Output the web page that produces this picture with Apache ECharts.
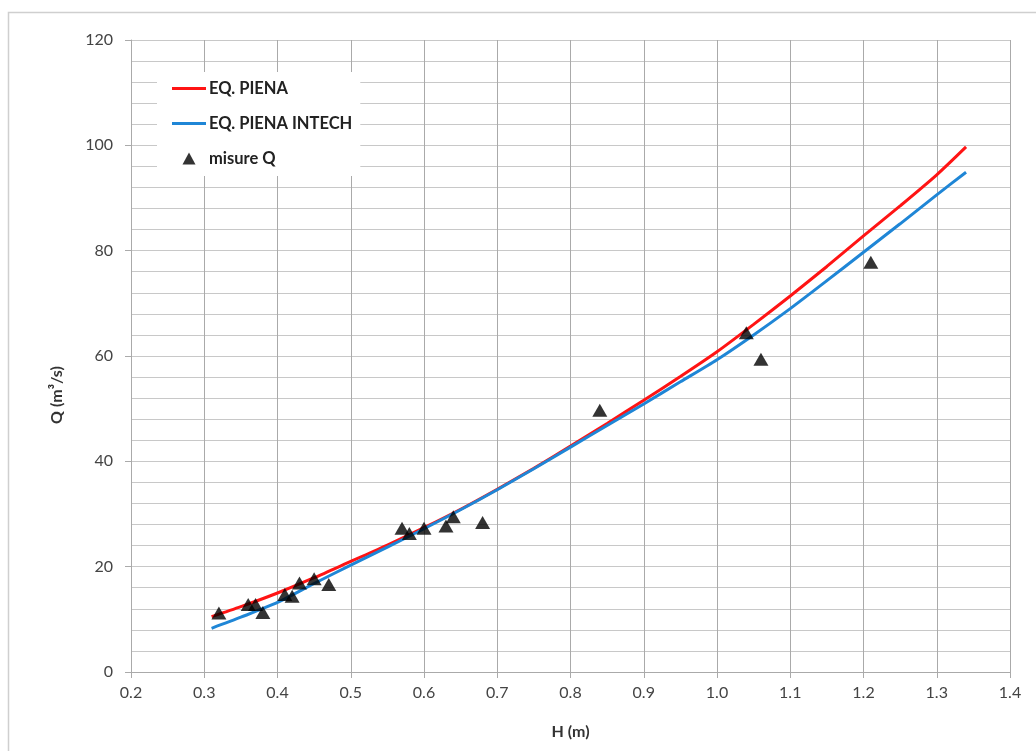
<!DOCTYPE html>
<html>
<head>
<meta charset="utf-8">
<script src="https://cdn.jsdelivr.net/npm/echarts@6/dist/echarts.min.js"></script>
<style>
  html, body { margin: 0; padding: 0; background: #fff; }
  #chart { width: 1036px; height: 751px; }
</style>
</head>
<body>
<div id="chart"></div>
<script>
// Stage H (m) sampled along the rating curves
const curveH = [0.31, 0.35, 0.40, 0.45, 0.50, 0.55, 0.60, 0.65, 0.70, 0.75, 0.80,
                0.85, 0.90, 0.95, 1.00, 1.05, 1.10, 1.15, 1.20, 1.25, 1.30, 1.34];
// EQ. PIENA discharge (m³/s)
const qPiena = [10.5, 12.4, 15.0, 17.9, 21.0, 24.1, 27.4, 30.9, 34.7, 38.7, 42.9,
                47.2, 51.6, 56.1, 60.8, 66.0, 71.4, 77.0, 82.8, 88.5, 94.4, 99.7];
// EQ. PIENA INTECH discharge (m³/s)
const qIntech = [8.3, 10.4, 13.2, 16.8, 20.3, 23.7, 27.2, 30.8, 34.6, 38.6, 42.7,
                 46.8, 50.9, 55.1, 59.3, 64.0, 69.0, 74.3, 79.7, 85.1, 90.6, 94.9];
// Measured discharges: stage and flow
const measH = [0.32, 0.36, 0.37, 0.38, 0.41, 0.42, 0.43, 0.45, 0.47, 0.57, 0.58,
               0.60, 0.63, 0.64, 0.68, 0.84, 1.04, 1.06, 1.21];
const measQ = [11.2, 12.8, 12.8, 11.3, 14.7, 14.4, 16.9, 17.7, 16.6, 27.3, 26.3,
               27.3, 27.7, 29.5, 28.4, 49.7, 64.4, 59.4, 77.8];

const pair = (xs, ys) => xs.map((x, i) => [x, ys[i]]);

const RED = '#ff1414';
const BLUE = '#1f86d6';

const chart = echarts.init(document.getElementById('chart'));
const labelFont = { fontFamily: 'Lato', fontSize: 16, color: '#444' };

chart.setOption({
  animation: false,
  backgroundColor: '#fff',
  grid: { left: 131, top: 40, right: 26, bottom: 79, containLabel: false },
  xAxis: {
    type: 'value', min: 0.2, max: 1.4, interval: 0.1,
    name: 'H (m)', nameLocation: 'middle', nameGap: 52,
    nameTextStyle: { fontFamily: 'Lato', fontSize: 16, fontWeight: 'bold', color: '#333' },
    axisLine: { show: true, lineStyle: { color: '#aaa', width: 1 } },
    axisTick: { show: true, length: 6, lineStyle: { color: '#aaa' } },
    axisLabel: Object.assign({ margin: 13, formatter: v => v.toFixed(1) }, labelFont),
    splitLine: { show: true, lineStyle: { color: '#aaa', width: 1 } }
  },
  yAxis: {
    type: 'value', min: 0, max: 120, interval: 20,
    axisLine: { show: true, lineStyle: { color: '#aaa', width: 1 } },
    axisTick: { show: true, length: 6, lineStyle: { color: '#aaa' } },
    axisLabel: Object.assign({ margin: 18 }, labelFont),
    splitLine: { show: true, lineStyle: { color: '#c8c8c8', width: 1 } },
    minorTick: { show: false, splitNumber: 5 },
    minorSplitLine: { show: true, lineStyle: { color: '#c8c8c8', width: 1 } }
  },
  legend: {
    orient: 'vertical', left: 157, top: 72,
    backgroundColor: '#fff', padding: [8, 8, 9, 15],
    itemWidth: 34, itemHeight: 12, itemGap: 18,
    symbolKeepAspect: true,
    textStyle: {
      fontFamily: 'Lato', fontSize: 16.5, lineHeight: 16, fontWeight: 'bold',
      color: '#222', padding: [0, 0, 0, -2]
    },
    data: [
      { name: 'EQ. PIENA', icon: 'path://M0,0H34V3H0Z', itemStyle: { color: RED } },
      { name: 'EQ. PIENA INTECH', icon: 'path://M0,0H34V3H0Z', itemStyle: { color: BLUE } },
      { name: 'misure Q', icon: 'path://M6.5,0L13,12H0Z', itemStyle: { color: '#000' } }
    ]
  },
  graphic: [
    {
      type: 'rect', silent: true, z: -1,
      shape: { x: 8.5, y: 12.5, width: 1200, height: 900 },
      style: { fill: 'none', stroke: '#cfcfcf', lineWidth: 1.5 }
    },
    {
      type: 'text', x: 57, y: 395, rotation: Math.PI / 2,
      style: {
        text: 'Q (m³/s)', fontFamily: 'Lato', fontSize: 16, fontWeight: 'bold',
        fill: '#333', align: 'center', verticalAlign: 'middle'
      }
    }
  ],
  series: [
    {
      name: 'EQ. PIENA', type: 'line', data: pair(curveH, qPiena),
      smooth: 0.25, symbol: 'none', showSymbol: false,
      lineStyle: { color: RED, width: 3 }, itemStyle: { color: RED }, z: 2
    },
    {
      name: 'EQ. PIENA INTECH', type: 'line', data: pair(curveH, qIntech),
      smooth: 0.25, symbol: 'none', showSymbol: false,
      lineStyle: { color: BLUE, width: 3 }, itemStyle: { color: BLUE }, z: 3
    },
    {
      name: 'misure Q', type: 'scatter', data: pair(measH, measQ),
      symbol: 'triangle', symbolSize: [15, 13], symbolKeepAspect: true,
      itemStyle: { color: '#000' }, z: 4
    }
  ]
});
</script>
</body>
</html>
